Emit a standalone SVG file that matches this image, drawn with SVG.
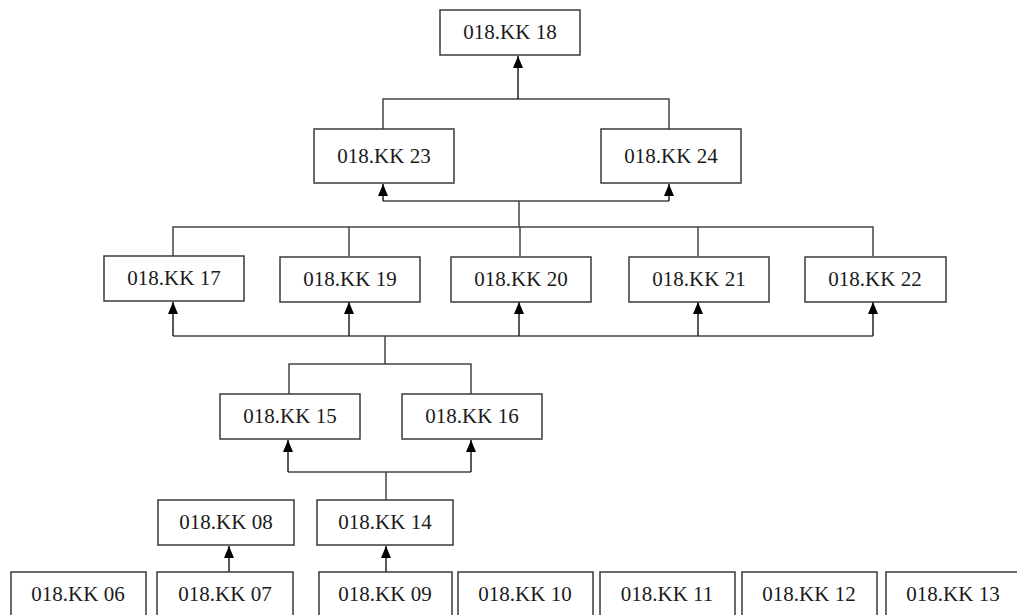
<svg xmlns="http://www.w3.org/2000/svg" width="1017" height="615" viewBox="0 0 1017 615">
<style>
.box{fill:#fff;stroke:#3a3a3a;stroke-width:1.5}
.lbl{font-family:"Liberation Serif","Times New Roman",serif;font-size:21px;fill:#1a1a1a;text-anchor:middle}
.ln{fill:none;stroke:#444;stroke-width:1.5}
.ar{fill:none;stroke:#222;stroke-width:1.5;marker-end:url(#ah)}
</style>
<defs>
<marker id="ah" markerUnits="userSpaceOnUse" markerWidth="12" markerHeight="10" viewBox="0 0 12 10" refX="12" refY="5" orient="auto">
<path d="M0,0 L12,5 L0,10 Z" fill="#000"/>
</marker>
</defs>
<rect width="1017" height="615" fill="#fff"/>
<g id="connectors">
<path class="ln" d="M383,129 V99 H669 V129"/>
<line class="ar" x1="518" y1="99" x2="518" y2="56"/>
<path class="ln" d="M383,201 H669 M519,201 V227"/>
<line class="ar" x1="383" y1="201" x2="383" y2="184"/>
<line class="ar" x1="669" y1="201" x2="669" y2="184"/>
<path class="ln" d="M173,256 V227 H873 V256 M349,227 V256 M520,227 V256 M698,227 V256"/>
<path class="ln" d="M173,336 H873 M385,336 V364"/>
<line class="ar" x1="173" y1="336" x2="173" y2="302"/>
<line class="ar" x1="349" y1="336" x2="349" y2="302"/>
<line class="ar" x1="519" y1="336" x2="519" y2="302"/>
<line class="ar" x1="698" y1="336" x2="698" y2="302"/>
<line class="ar" x1="873" y1="336" x2="873" y2="302"/>
<path class="ln" d="M289,394 V364 H471 V394"/>
<path class="ln" d="M288,472 H471 M386,472 V500"/>
<line class="ar" x1="288" y1="472" x2="288" y2="440"/>
<line class="ar" x1="471" y1="472" x2="471" y2="440"/>
<line class="ar" x1="229" y1="572" x2="229" y2="546"/>
<line class="ar" x1="386" y1="572" x2="386" y2="546"/>
</g>
<g id="kk18"><rect class="box" x="440" y="10" width="140" height="45"/><text class="lbl" x="510" y="39">018.KK 18</text></g>
<g id="kk23"><rect class="box" x="314" y="129" width="140" height="54"/><text class="lbl" x="384" y="163">018.KK 23</text></g>
<g id="kk24"><rect class="box" x="601" y="129" width="140" height="54"/><text class="lbl" x="671" y="163">018.KK 24</text></g>
<g id="kk17"><rect class="box" x="104" y="256" width="140" height="45"/><text class="lbl" x="174" y="285">018.KK 17</text></g>
<g id="kk19"><rect class="box" x="280" y="257" width="140" height="45"/><text class="lbl" x="350" y="286">018.KK 19</text></g>
<g id="kk20"><rect class="box" x="451" y="257" width="140" height="45"/><text class="lbl" x="521" y="286">018.KK 20</text></g>
<g id="kk21"><rect class="box" x="629" y="257" width="140" height="45"/><text class="lbl" x="699" y="286">018.KK 21</text></g>
<g id="kk22"><rect class="box" x="805" y="257" width="141" height="45"/><text class="lbl" x="875" y="286">018.KK 22</text></g>
<g id="kk15"><rect class="box" x="220" y="394" width="140" height="45"/><text class="lbl" x="290" y="423">018.KK 15</text></g>
<g id="kk16"><rect class="box" x="402" y="394" width="140" height="45"/><text class="lbl" x="472" y="423">018.KK 16</text></g>
<g id="kk08"><rect class="box" x="158" y="500" width="136" height="45"/><text class="lbl" x="226" y="529">018.KK 08</text></g>
<g id="kk14"><rect class="box" x="317" y="500" width="136" height="45"/><text class="lbl" x="385" y="529">018.KK 14</text></g>
<g id="kk06"><rect class="box" x="11" y="572" width="135" height="60"/><text class="lbl" x="78" y="601">018.KK 06</text></g>
<g id="kk07"><rect class="box" x="157" y="572" width="136" height="60"/><text class="lbl" x="225" y="601">018.KK 07</text></g>
<g id="kk09"><rect class="box" x="319" y="572" width="133" height="60"/><text class="lbl" x="385" y="601">018.KK 09</text></g>
<g id="kk10"><rect class="box" x="458" y="572" width="135" height="60"/><text class="lbl" x="525" y="601">018.KK 10</text></g>
<g id="kk11"><rect class="box" x="600" y="572" width="135" height="60"/><text class="lbl" x="667" y="601">018.KK 11</text></g>
<g id="kk12"><rect class="box" x="742" y="572" width="135" height="60"/><text class="lbl" x="809" y="601">018.KK 12</text></g>
<g id="kk13"><rect class="box" x="886" y="572" width="140" height="60"/><text class="lbl" x="953" y="601">018.KK 13</text></g>
</svg>
